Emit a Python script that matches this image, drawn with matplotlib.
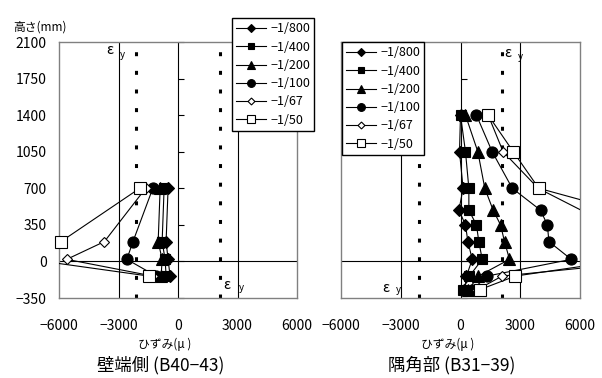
import matplotlib
matplotlib.use('Agg')
import matplotlib.pyplot as plt
import numpy as np

plt.rcParams['font.family'] = ['Noto Sans CJK JP', 'DejaVu Sans']
plt.rcParams['axes.unicode_minus'] = True

# drift angles (legend)
labels = ['−1/800', '−1/400', '−1/200', '−1/100', '−1/67', '−1/50']

# wall-end side B40-43 : gauge heights (mm) and strains (micro)
h_end = [700, 190, 20, -140]
end_800 = [-500, -600, -500, -400]
end_400 = [-700, -800, -650, -600]
end_200 = [-900, -1000, -800, -850]
end_100 = [-1270, -2270, -2580, -1100]
end_67 = [-1630, -3710, -5610, -1270]
end_50 = [-1930, -5900, -7500, -1475]

# corner B31-39
h_cor = [1400, 1050, 700, 490, 350, 190, 20, -140, -270]
cor_800 = [0, -50, 130, -80, 250, 370, 590, 300, 200]
cor_400 = [0, 250, 420, 420, 800, 920, 1090, 450, 130]
cor_200 = [250, 870, 1220, 1640, 2010, 2210, 2460, 900, 400]
cor_100 = [800, 1590, 2600, 4020, 4360, 4440, 5560, 1340, 600]
cor_67 = [1390, 2140, 3900, np.nan, 7500, 9000, 10500, 2090, 840]
cor_50 = [1390, 2650, 3930, 7950, 9000, 9500, 8500, 2760, 970]

eps_y = 2100
xticks = [-6000, -3000, 0, 3000, 6000]
yticks = [-350, 0, 350, 700, 1050, 1400, 1750, 2100]

markers = ['D', 's', '^', 'o', 'D', 's']
msizes = [6, 7, 8, 8, 5, 8.5]
faces = ['k', 'k', 'k', 'k', 'w', 'w']

fig = plt.figure(figsize=(6.02, 3.78), dpi=100)
ax1 = fig.add_axes([59/602, 1-298/378, 238/602, 256/378])
ax2 = fig.add_axes([341/602, 1-298/378, 239/602, 256/378])


def setup(ax, show_y):
    ax.set_xlim(-6000, 6000)
    ax.set_ylim(-350, 2100)
    for s in ax.spines.values():
        s.set_color('#808080')
        s.set_linewidth(1.0)
    ax.set_xticks(xticks)
    ax.set_yticks(yticks)
    ax.tick_params(length=0, labelsize=10)
    ax.tick_params(axis='x', pad=15)
    ax.tick_params(axis='y', pad=9)
    if not show_y:
        ax.set_yticklabels([])
    for xv in [-3000, 0, 3000]:
        ax.axvline(xv, color='k', lw=0.8, zorder=1)
    ax.axhline(0, color='k', lw=0.8, zorder=1)
    # small ticks on the x=0 axis
    ax.plot(np.zeros(len(yticks)), yticks, ls='none', marker=1, ms=4,
            mew=0.8, color='k', clip_on=False, zorder=1)
    # yield strain
    for xv in [-eps_y, eps_y]:
        ax.axvline(xv, color='k', lw=2.2, ls=(0, (1.3, 4.8)), zorder=1)


def draw(ax, h, series):
    handles = []
    y = np.array(h, dtype=float)
    for vals, lab, m, ms, fc in zip(series, labels, markers, msizes, faces):
        x = np.array(vals, dtype=float)
        ok = ~np.isnan(x)
        ax.plot(x[ok], y[ok], color='k', lw=0.8, zorder=3)
        # markers inside the range are drawn whole, even at the frame
        vis = ok & (x >= -6000) & (x <= 6000)
        ax.plot(x[vis], y[vis], ls='none', marker=m, ms=ms, mfc=fc,
                mec='k', mew=0.8, clip_on=False, zorder=4)
        hl, = ax.plot([], [], color='k', lw=0.8, marker=m, ms=ms,
                      mfc=fc, mec='k', mew=0.8, label=lab)
        handles.append(hl)
    return handles


setup(ax1, True)
setup(ax2, False)
draw(ax1, h_end, [end_800, end_400, end_200, end_100, end_67, end_50])
hs = draw(ax2, h_cor, [cor_800, cor_400, cor_200, cor_100, cor_67, cor_50])

# yield strain labels
ax1.text(-3460, 2024, 'ε', fontsize=10, ha='center', va='center')
ax1.text(-2800, 1976, 'y', fontsize=7, ha='center', va='center')
ax1.text(2480, -225, 'ε', fontsize=10, ha='center', va='center')
ax1.text(3190, -255, 'y', fontsize=7, ha='center', va='center')
ax2.text(2350, 1990, 'ε', fontsize=10, ha='center', va='center')
ax2.text(3015, 1960, 'y', fontsize=7, ha='center', va='center')
ax2.text(-3770, -256, 'ε', fontsize=10, ha='center', va='center')
ax2.text(-3130, -273, 'y', fontsize=7, ha='center', va='center')

leg_kw = dict(loc='upper left', fontsize=9, frameon=True, fancybox=False,
              edgecolor='k', framealpha=1, borderpad=0.35, borderaxespad=0,
              handlelength=2.4, handletextpad=0.3, labelspacing=0.42,
              markerscale=0.7)
lg1 = fig.legend(handles=hs, bbox_to_anchor=(232/602, 1-18/378), **leg_kw)
lg2 = fig.legend(handles=hs, bbox_to_anchor=(342/602, 1-42/378), **leg_kw)
for lg in (lg1, lg2):
    lg.get_frame().set_linewidth(1.0)

fig.text(13/602, 1-27/378, '高さ(mm)', fontsize=8.5, va='center', ha='left')
fig.text(165/602, 1-344/378, 'ひずみ(μ )', fontsize=8.5, ha='center', va='center')
fig.text(448/602, 1-344/378, 'ひずみ(μ )', fontsize=8.5, ha='center', va='center')
fig.text(161/602, 1-365/378, '壁端側 (B40−43)', fontsize=12.5, ha='center', va='center')
fig.text(452/602, 1-365/378, '隅角部 (B31−39)', fontsize=12.5, ha='center', va='center')

fig.savefig('out.png', dpi=100)
